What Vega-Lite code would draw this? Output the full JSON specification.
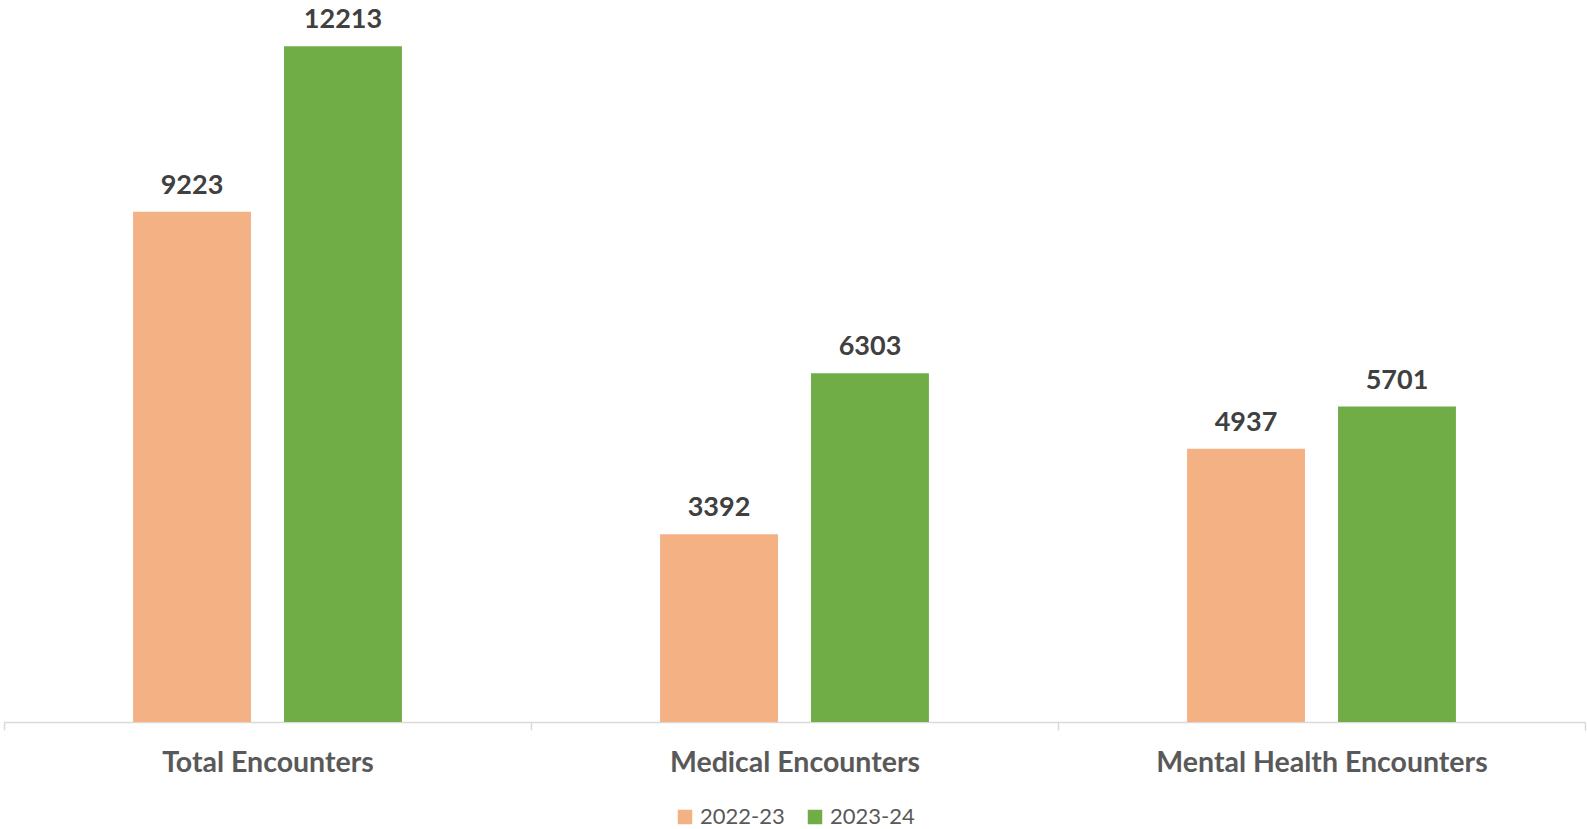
{
  "$schema": "https://vega.github.io/schema/vega-lite/v6.json",
  "autosize": "none",
  "width": 1581,
  "height": 722,
  "padding": {"left": 4, "top": 0, "right": 2, "bottom": 107},
  "background": "white",
  "config": {"view": {"stroke": null}, "font": "Lato"},
  "data": {"values": [
    {"category": "Total Encounters", "year": "2022-23", "value": 9223},
    {"category": "Total Encounters", "year": "2023-24", "value": 12213},
    {"category": "Medical Encounters", "year": "2022-23", "value": 3392},
    {"category": "Medical Encounters", "year": "2023-24", "value": 6303},
    {"category": "Mental Health Encounters", "year": "2022-23", "value": 4937},
    {"category": "Mental Health Encounters", "year": "2023-24", "value": 5701}
  ]},
  "encoding": {
    "x": {"field": "category", "type": "nominal", "sort": null,
      "scale": {"paddingInner": 0, "paddingOuter": 0},
      "axis": {"title": null, "labelAngle": 0, "labelFontSize": 28.5, "labelFontWeight": "bold", "labelColor": "#595959", "labelLimit": 600,
        "domainColor": "#d9d9d9", "domainWidth": 1.5, "tickColor": "#d9d9d9", "tickWidth": 1.5, "tickSize": 8, "tickBand": "extent",
        "labelPadding": 18}},
    "xOffset": {"field": "year", "type": "nominal", "scale": {"paddingInner": 0.219, "paddingOuter": 0.855}},
    "y": {"field": "value", "type": "quantitative", "scale": {"domain": [0, 13050], "nice": false}, "axis": null}
  },
  "layer": [
    {"mark": {"type": "bar"},
      "encoding": {"color": {"field": "year", "type": "nominal",
        "scale": {"domain": ["2022-23", "2023-24"], "range": ["#F4B183", "#70AD47"]},
        "legend": {"title": null, "orient": "none", "direction": "horizontal", "legendX": 670, "legendY": 806,
          "symbolType": "square", "symbolSize": 210, "symbolStrokeWidth": 0, "symbolOpacity": 1, "labelFontSize": 22, "labelColor": "#595959", "labelFont": "Lato", "columnPadding": 19, "labelOffset": 4}}}},
    {"mark": {"type": "text", "baseline": "alphabetic", "dy": -18, "fontSize": 27, "fontWeight": "bold", "color": "#404040"},
      "encoding": {"text": {"field": "value", "type": "quantitative", "format": "d"}}}
  ]
}
